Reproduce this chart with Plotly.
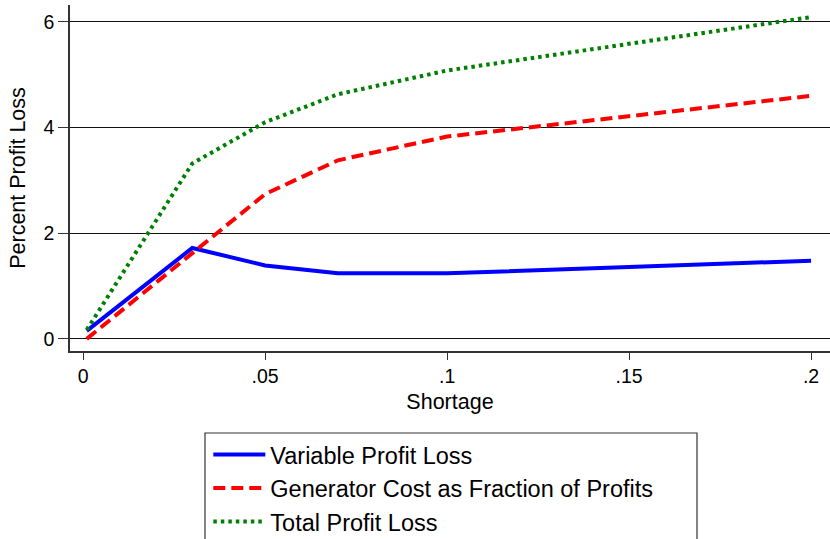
import plotly.graph_objects as go

shortage = [0.001, 0.03, 0.05, 0.07, 0.1, 0.2]
variable_profit_loss = [0.15, 1.72, 1.39, 1.24, 1.24, 1.48]
generator_cost = [0.0, 1.62, 2.74, 3.38, 3.83, 4.60]
total_profit_loss = [0.17, 3.32, 4.10, 4.63, 5.08, 6.09]

x_ticks = [0, 0.05, 0.1, 0.15, 0.2]
x_tick_labels = ["0", ".05", ".1", ".15", ".2"]
y_ticks = [0, 2, 4, 6]

series_names = ["Variable Profit Loss", "Generator Cost as Fraction of Profits", "Total Profit Loss"]

fig = go.Figure()
fig.add_trace(go.Scatter(x=shortage, y=variable_profit_loss, mode="lines", name=series_names[0],
                         line=dict(color="#0000ff", width=4, dash="solid")))
fig.add_trace(go.Scatter(x=shortage, y=generator_cost, mode="lines", name=series_names[1],
                         line=dict(color="#ff0000", width=4, dash="12px,6px")))
fig.add_trace(go.Scatter(x=shortage, y=total_profit_loss, mode="lines", name=series_names[2],
                         line=dict(color="#008000", width=4, dash="3.5px,4px")))

font = "Liberation Sans, Arial, sans-serif"
fig.update_layout(
    width=830, height=539,
    margin=dict(l=70, r=0, t=5, b=188, autoexpand=False),
    paper_bgcolor="white", plot_bgcolor="white",
    font=dict(family=font, size=19.5, color="black"),
    xaxis=dict(range=[-0.0036, 0.2052], tickvals=x_ticks, ticktext=x_tick_labels,
               showgrid=False, zeroline=False, showline=True, linecolor="#333", linewidth=1.5,
               ticks="outside", ticklen=7, tickcolor="#333", tickwidth=1,
               title=dict(text="Shortage", font=dict(family=font, size=21.5), standoff=8),
               tickfont=dict(family=font, size=19.5), automargin=False),
    yaxis=dict(range=[-0.23, 6.32], tickvals=y_ticks, showgrid=True, gridcolor="#111", gridwidth=1,
               zeroline=False, showline=True, linecolor="#333", linewidth=1.5,
               ticks="outside", ticklen=10, tickcolor="#333", tickwidth=1,
               title=dict(text="Percent Profit Loss", font=dict(family=font, size=21.5), standoff=12),
               tickfont=dict(family=font, size=19.5), automargin=False),
    legend=dict(x=0.182, y=-0.236, xanchor="left", yanchor="top", bgcolor="rgba(0,0,0,0)",
                borderwidth=0, font=dict(family=font, size=23.5), tracegroupgap=0, itemwidth=52),
    shapes=[dict(type="rect", xref="paper", yref="paper", x0=(205-70)/760, x1=(697-70)/760,
                 y0=(351-433)/346, y1=(351-560)/346, line=dict(color="#333", width=1.2))],
)

fig.write_html("out.html")
